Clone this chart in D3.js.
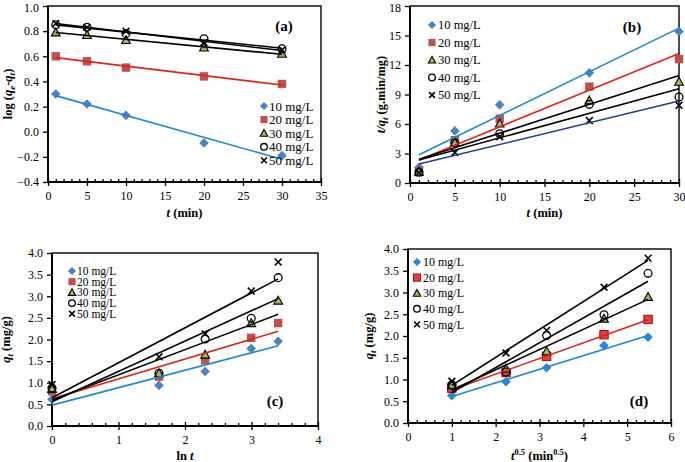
<!DOCTYPE html>
<html><head><meta charset="utf-8">
<script src="https://cdn.jsdelivr.net/npm/d3@7"></script>
<style>
html,body{margin:0;padding:0;background:#fff;}
svg{display:block;font-family:"Liberation Serif","Times New Roman",serif;}
</style></head>
<body>
<svg id="chart" width="685" height="462"></svg>
<script>
// ---------------- DATA ----------------
const concLabels = ["10 mg/L", "20 mg/L", "30 mg/L", "40 mg/L", "50 mg/L"];
const timeMin = [1, 5, 10, 20, 30];
const lnTime = [0, 1.609, 2.303, 2.996, 3.401];
const sqrtTime = [1, 2.236, 3.162, 4.472, 5.477];

// (a) pseudo-first-order: log(qe-qt)
const logQeQt = [
  [0.30, 0.22, 0.13, -0.09, -0.19],
  [0.60, 0.56, 0.51, 0.44, 0.38],
  [0.79, 0.77, 0.73, 0.67, 0.62],
  [0.85, 0.83, 0.78, 0.74, 0.66],
  [0.86, 0.83, 0.80, 0.71, 0.65]
];
// (b) pseudo-second-order: t/qt
const tOverQt = [
  [1.6, 5.3, 7.95, 11.2, 15.4],
  [1.2, 4.35, 6.55, 9.8, 12.6],
  [1.15, 4.1, 6.05, 8.4, 10.3],
  [1.1, 4.1, 5.0, 8.0, 8.75],
  [1.05, 3.1, 4.7, 6.35, 7.9]
];
// (c) Elovich: qt vs ln t
const qtElovich = [
  [0.62, 0.94, 1.26, 1.79, 1.96],
  [0.80, 1.14, 1.52, 2.04, 2.38],
  [0.86, 1.22, 1.65, 2.38, 2.90],
  [0.88, 1.22, 2.01, 2.49, 3.43],
  [0.96, 1.60, 2.13, 3.12, 3.79]
];
// (d) intra-particle diffusion: qt vs t^0.5
const qtIntra = [
  [0.63, 0.95, 1.27, 1.78, 1.97],
  [0.80, 1.16, 1.53, 2.03, 2.38],
  [0.87, 1.25, 1.65, 2.40, 2.90],
  [0.88, 1.17, 2.01, 2.49, 3.44],
  [0.96, 1.61, 2.13, 3.12, 3.79]
];

// axis ticks
const ticksA_x = [0, 5, 10, 15, 20, 25, 30, 35];
const ticksA_y = [-0.4, -0.2, 0.0, 0.2, 0.4, 0.6, 0.8, 1.0];
const ticksB_x = [0, 5, 10, 15, 20, 25, 30];
const ticksB_y = [0, 3, 6, 9, 12, 15, 18];
const ticksC_x = [0, 1, 2, 3, 4];
const ticksC_y = [0, 0.5, 1.0, 1.5, 2.0, 2.5, 3.0, 3.5, 4.0];
const ticksD_x = [0, 1, 2, 3, 4, 5, 6];
const ticksD_y = [0, 0.5, 1.0, 1.5, 2.0, 2.5, 3.0, 3.5, 4.0];

// ---------------- STYLE ----------------
const BLUE_LINE = "#1e88d8", RED_LINE = "#e3201b", NAVY_LINE = "#1f3f8f", BLACK = "#000";
const markerKinds = ["diamond", "square", "triangle", "circle", "cross"];

const svg = d3.select("#chart");

function linFit(xs, ys) {
  const n = xs.length, mx = d3.mean(xs), my = d3.mean(ys);
  let sxy = 0, sxx = 0;
  for (let i = 0; i < n; i++) { sxy += (xs[i]-mx)*(ys[i]-my); sxx += (xs[i]-mx)**2; }
  const b = sxy / sxx; return { b, a: my - b*mx };
}

function drawMarker(g, kind, cx, cy, opt) {
  opt = opt || {};
  const s = opt.s || 1;
  if (kind === "diamond") {
    const r = 4.8*s;
    g.append("path").attr("d", `M${cx},${cy-r}L${cx+r},${cy}L${cx},${cy+r}L${cx-r},${cy}Z`)
      .attr("fill", opt.blue || "#4f81bd");
  } else if (kind === "square") {
    const r = 4.2*s;
    g.append("rect").attr("x", cx-r).attr("y", cy-r).attr("width", 2*r).attr("height", 2*r)
      .attr("fill", opt.red || "#c0504d").attr("stroke", opt.redStroke || "none");
  } else if (kind === "triangle") {
    const r = 4.4*s;
    g.append("path").attr("d", `M${cx},${cy-r}L${cx+r},${cy+r*0.8}L${cx-r},${cy+r*0.8}Z`)
      .attr("fill", "#9bbb59").attr("stroke", "#000").attr("stroke-width", 1.1);
  } else if (kind === "circle") {
    g.append("circle").attr("cx", cx).attr("cy", cy).attr("r", 3.9*s)
      .attr("fill", "none").attr("stroke", "#000").attr("stroke-width", 1.3);
  } else {
    const r = 3.4*s;
    g.append("path").attr("d", `M${cx-r},${cy-r}L${cx+r},${cy+r}M${cx-r},${cy+r}L${cx+r},${cy-r}`)
      .attr("stroke", "#000").attr("stroke-width", 1.6).attr("fill", "none");
  }
}

// rich text: parts = [{t, it, sub, sup}]
function rich(textSel, parts) {
  let shift = 0;
  parts.forEach(p => {
    const target = p.sub ? 3 : (p.sup ? -5 : 0);
    const ts = textSel.append("tspan").text(p.t);
    if (target !== shift) { ts.attr("dy", target - shift); shift = target; }
    if (p.it) ts.attr("font-style", "italic");
    if (p.sub) ts.attr("font-size", 9);
    if (p.sup) ts.attr("font-size", 8.5);
  });
}

function panel(cfg) {
  const g = svg.append("g");
  const x = d3.scaleLinear().domain(cfg.xDomain).range([cfg.left, cfg.right]);
  const y = d3.scaleLinear().domain(cfg.yDomain).range([cfg.bottom, cfg.top]);

  // frame
  g.append("rect").attr("x", cfg.left).attr("y", cfg.top)
    .attr("width", cfg.right-cfg.left).attr("height", cfg.bottom-cfg.top)
    .attr("fill", "none").attr("stroke", "#000").attr("stroke-width", 1.4);

  // minor x ticks (inside)
  const xt = cfg.xTicks, minor = [];
  for (let i = 0; i < xt.length-1; i++) {
    const step = (xt[i+1]-xt[i]) / 5;
    for (let k = 1; k < 5; k++) minor.push(xt[i] + k*step);
  }
  g.append("g").attr("transform", `translate(0,${cfg.bottom})`)
    .call(d3.axisTop(x).tickValues(minor).tickSize(3).tickFormat(""))
    .call(a => a.select(".domain").remove())
    .call(a => a.selectAll("line").attr("stroke-width", 1.3));
  g.append("g").attr("transform", `translate(0,${cfg.bottom})`)
    .call(d3.axisTop(x).tickValues(xt).tickSize(4).tickFormat(""))
    .call(a => a.select(".domain").remove())
    .call(a => a.selectAll("line").attr("stroke-width", 1.3));
  // major x ticks (outside) + labels
  g.append("g").attr("transform", `translate(0,${cfg.bottom})`)
    .call(d3.axisBottom(x).tickValues(xt).tickSize(4).tickPadding(5).tickFormat(d3.format("d")))
    .call(a => a.select(".domain").remove())
    .call(a => a.selectAll("line").attr("stroke-width", 1.3))
    .call(a => a.selectAll("text").attr("font-family", "Liberation Serif").attr("font-size", cfg.tickFs).attr("fill", "#000"));
  // y axis
  g.append("g").attr("transform", `translate(${cfg.left},0)`)
    .call(d3.axisLeft(y).tickValues(cfg.yTicks).tickSize(5).tickPadding(4).tickFormat(cfg.yFmt))
    .call(a => a.select(".domain").remove())
    .call(a => a.selectAll("line").attr("stroke-width", 1.3))
    .call(a => a.selectAll("text").attr("font-family", "Liberation Serif").attr("font-size", cfg.tickFs).attr("fill", "#000"))
    .call(a => a.selectAll(".tick").each(function(d) {
      // keep the top label inside the picture
      const py = y(d);
      if (py < 8) d3.select(this).select("text").attr("y", 8 - py);
    }));
  // thicker axis lines
  g.append("line").attr("x1", cfg.left).attr("x2", cfg.right).attr("y1", cfg.bottom).attr("y2", cfg.bottom)
    .attr("stroke", "#000").attr("stroke-width", 1.9);
  g.append("line").attr("x1", cfg.left).attr("x2", cfg.left).attr("y1", cfg.top).attr("y2", cfg.bottom)
    .attr("stroke", "#000").attr("stroke-width", 1.9);

  // markers
  const mg = g.append("g");
  cfg.series.forEach((ys, si) => {
    ys.forEach((v, i) => drawMarker(mg, markerKinds[si], x(cfg.xs[i]), y(v), cfg.markerOpt));
  });
  // trend lines (least-squares fits of each series)
  cfg.series.forEach((ys, si) => {
    const f = linFit(cfg.xs, ys);
    const xa = d3.min(cfg.xs), xb = d3.max(cfg.xs);
    g.append("line").attr("x1", x(xa)).attr("y1", y(f.a + f.b*xa))
      .attr("x2", x(xb)).attr("y2", y(f.a + f.b*xb))
      .attr("stroke", cfg.lineColors[si]).attr("stroke-width", 1.6);
  });

  // legend
  const L = cfg.legend;
  concLabels.forEach((lab, i) => {
    const yy = L.y + i*L.dy;
    drawMarker(g, markerKinds[i], L.x, yy, Object.assign({s: 0.85}, cfg.markerOpt));
    g.append("text").attr("x", L.x + L.gap).attr("y", yy).attr("dy", "0.35em")
      .attr("font-size", L.fs).text(lab);
  });

  // panel label
  g.append("text").attr("x", cfg.label.x).attr("y", cfg.label.y).attr("text-anchor", "middle")
    .attr("font-weight", "bold").attr("font-size", 15).text(cfg.label.text);

  // axis titles
  const xtT = g.append("text").attr("x", (cfg.left+cfg.right)/2).attr("y", cfg.xTitleY)
    .attr("text-anchor", "middle").attr("font-weight", "bold").attr("font-size", 12.5);
  rich(xtT, cfg.xTitle);
  const ytT = g.append("text")
    .attr("transform", `translate(${cfg.yTitleX},${(cfg.top+cfg.bottom)/2}) rotate(-90)`)
    .attr("text-anchor", "middle").attr("font-weight", "bold").attr("font-size", 12.5);
  rich(ytT, cfg.yTitle);
}

const fmt1 = d3.format(".1f");
const tMinTitle = [{t: "t", it: true}, {t: " (min)"}];
const qtTitle = [{t: "q", it: true}, {t: "t", it: true, sub: true}, {t: " (mg/g)"}];

// (a)
panel({
  left: 48, right: 321, top: 6, bottom: 182,
  xDomain: [0, 35], yDomain: [-0.4, 1.0], xTicks: ticksA_x, yTicks: ticksA_y, yFmt: fmt1,
  tickFs: 12, xs: timeMin, series: logQeQt,
  lineColors: [BLUE_LINE, RED_LINE, BLACK, BLACK, BLACK],
  legend: { x: 264, y: 106, dy: 13.6, gap: 5, fs: 13 },
  label: { text: "(a)", x: 284, y: 31 },
  xTitleY: 217, yTitleX: 12,
  xTitle: tMinTitle,
  yTitle: [{t: "log ("}, {t: "q", it: true}, {t: "e", it: true, sub: true}, {t: "-"},
           {t: "q", it: true}, {t: "t", it: true, sub: true}, {t: ")"}]
});

// (b)
panel({
  left: 410, right: 679, top: 6, bottom: 183,
  xDomain: [0, 30], yDomain: [0, 18], xTicks: ticksB_x, yTicks: ticksB_y, yFmt: d3.format("d"),
  tickFs: 12, xs: timeMin, series: tOverQt,
  lineColors: [BLUE_LINE, RED_LINE, BLACK, BLACK, NAVY_LINE],
  legend: { x: 432, y: 25, dy: 17.5, gap: 6, fs: 12.5 },
  label: { text: "(b)", x: 632, y: 32 },
  xTitleY: 217, yTitleX: 385,
  xTitle: tMinTitle,
  yTitle: [{t: "t/q", it: true}, {t: "t", it: true, sub: true}, {t: " (g.min/mg)"}]
});

// (c)
panel({
  left: 52, right: 318, top: 253, bottom: 426,
  xDomain: [0, 4], yDomain: [0, 4], xTicks: ticksC_x, yTicks: ticksC_y, yFmt: fmt1,
  tickFs: 12, xs: lnTime, series: qtElovich,
  lineColors: [BLUE_LINE, RED_LINE, BLACK, BLACK, BLACK],
  legend: { x: 72, y: 271, dy: 10.7, gap: 5, fs: 11.5 },
  label: { text: "(c)", x: 275, y: 406 },
  xTitleY: 460, yTitleX: 10,
  xTitle: [{t: "ln "}, {t: "t", it: true}],
  yTitle: qtTitle
});

// (d)
panel({
  left: 408, right: 671, top: 249, bottom: 423,
  xDomain: [0, 6], yDomain: [0, 4], xTicks: ticksD_x, yTicks: ticksD_y, yFmt: fmt1,
  tickFs: 12, xs: sqrtTime, series: qtIntra,
  lineColors: [BLUE_LINE, RED_LINE, BLACK, BLACK, BLACK],
  markerOpt: { blue: "#2a86d6", red: "#d64541", redStroke: "#c00000" },
  legend: { x: 417, y: 262, dy: 15.6, gap: 6, fs: 12 },
  label: { text: "(d)", x: 639, y: 406 },
  xTitleY: 460, yTitleX: 373,
  xTitle: [{t: "t", it: true}, {t: "0.5", sup: true}, {t: " (min"}, {t: "0.5", sup: true}, {t: ")"}],
  yTitle: qtTitle
});
</script>
</body></html>
